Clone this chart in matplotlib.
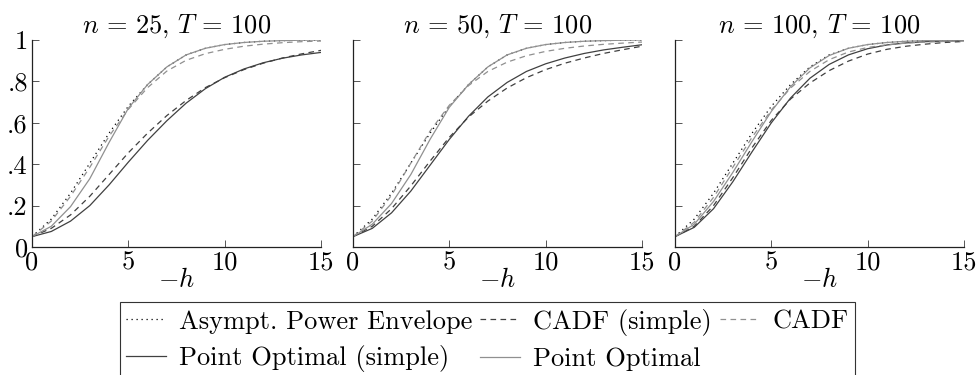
import matplotlib
matplotlib.use("Agg")
import matplotlib.pyplot as plt

plt.rcParams['font.family'] = 'cmr10'
plt.rcParams['mathtext.fontset'] = 'cm'
plt.rcParams['axes.unicode_minus'] = False

# grid of -h values
h = [0, 1, 2, 3, 4, 5, 6, 7, 8, 9, 10, 11, 12, 13, 14, 15]

# asymptotic power envelope (same in every panel)
envelope = [0.05, 0.135, 0.26, 0.405, 0.55, 0.68, 0.785, 0.87, 0.928, 0.96,
            0.978, 0.988, 0.994, 0.997, 0.999, 1.0]

# n = 25
cadf_s_25 = [0.05, 0.09, 0.155, 0.245, 0.35, 0.455, 0.55, 0.635, 0.708, 0.77,
             0.818, 0.857, 0.888, 0.913, 0.933, 0.95]
cadf_25 = [0.05, 0.125, 0.245, 0.385, 0.535, 0.665, 0.77, 0.85, 0.902, 0.934,
           0.955, 0.97, 0.98, 0.987, 0.992, 0.995]
po_s_25 = [0.05, 0.075, 0.125, 0.20, 0.30, 0.41, 0.515, 0.61, 0.695, 0.765,
           0.82, 0.86, 0.89, 0.912, 0.928, 0.94]
po_25 = [0.05, 0.10, 0.195, 0.33, 0.505, 0.67, 0.785, 0.87, 0.928, 0.96,
         0.978, 0.988, 0.994, 0.997, 0.999, 1.0]

# n = 50
cadf_s_50 = [0.05, 0.10, 0.185, 0.295, 0.415, 0.53, 0.628, 0.705, 0.768, 0.818,
             0.857, 0.888, 0.913, 0.935, 0.953, 0.97]
cadf_50 = [0.05, 0.125, 0.25, 0.405, 0.56, 0.685, 0.78, 0.848, 0.893, 0.924,
           0.945, 0.96, 0.971, 0.979, 0.985, 0.99]
po_s_50 = [0.05, 0.09, 0.165, 0.27, 0.395, 0.52, 0.632, 0.725, 0.795, 0.848,
           0.885, 0.913, 0.935, 0.952, 0.965, 0.977]
po_50 = [0.05, 0.11, 0.21, 0.35, 0.52, 0.675, 0.785, 0.87, 0.928, 0.96,
         0.978, 0.988, 0.994, 0.997, 0.999, 1.0]

# n = 100
cadf_s_100 = [0.05, 0.10, 0.20, 0.335, 0.48, 0.612, 0.715, 0.792, 0.852, 0.898,
              0.932, 0.955, 0.97, 0.98, 0.988, 0.993]
cadf_100 = [0.05, 0.12, 0.24, 0.385, 0.53, 0.662, 0.768, 0.848, 0.905, 0.942,
            0.964, 0.977, 0.985, 0.99, 0.993, 0.995]
po_s_100 = [0.05, 0.095, 0.185, 0.315, 0.46, 0.6, 0.72, 0.815, 0.882, 0.928,
            0.958, 0.976, 0.986, 0.992, 0.995, 0.997]
po_100 = [0.05, 0.11, 0.22, 0.36, 0.51, 0.655, 0.775, 0.865, 0.925, 0.96,
          0.978, 0.988, 0.994, 0.997, 0.999, 1.0]

titles = [r'$n\,=\,25$, $T\,=\,100$', r'$n\,=\,50$, $T\,=\,100$',
          r'$n\,=\,100$, $T\,=\,100$']
panels = [(cadf_s_25, cadf_25, po_s_25, po_25),
          (cadf_s_50, cadf_50, po_s_50, po_50),
          (cadf_s_100, cadf_100, po_s_100, po_100)]

xticks = [0, 5, 10, 15]
yticks = [0, 0.2, 0.4, 0.6, 0.8, 1.0]
ytick_labels = ['0', '.2', '.4', '.6', '.8', '1']

dark = '#404040'
light = '#909090'
lw = 0.9
fs = 19
dash = (0, (4.5, 3.5))

fig = plt.figure(figsize=(9.8, 3.75), dpi=100)
lefts = [32, 353, 675]
for i, left in enumerate(lefts):
    ax = fig.add_axes([left / 980, 1 - 247 / 375, 289 / 980, 207 / 375])
    cadf_s, cadf, po_s, po = panels[i]
    ax.plot(h, envelope, color='black', lw=lw, ls=(0, (1, 3)),
            label='Asympt. Power Envelope')
    ax.plot(h, po_s, color=dark, lw=lw, label='Point Optimal (simple)')
    ax.plot(h, cadf_s, color=dark, lw=lw, ls=dash, label='CADF (simple)')
    ax.plot(h, po, color=light, lw=lw, label='Point Optimal')
    ax.plot(h, cadf, color=light, lw=lw, ls=dash, label='CADF')

    ax.set_xlim(0, 15)
    ax.set_ylim(0, 1)
    ax.spines['top'].set_visible(False)
    ax.spines['right'].set_visible(False)
    for s in ['left', 'bottom']:
        ax.spines[s].set_linewidth(0.9)
        ax.spines[s].set_color('#222222')
    ax.set_xticks(xticks)
    ax.set_xticklabels([str(t) for t in xticks])
    ax.set_yticks(yticks)
    if i == 0:
        ax.set_yticklabels(ytick_labels)
    else:
        ax.set_yticklabels([])
    ax.tick_params(direction='in', length=5, width=0.7, color='#555555',
                   labelsize=fs, pad=3)
    ax.set_title(titles[i], fontsize=fs, pad=4)
    ax.set_xlabel(r'$-h$', fontsize=fs, labelpad=-5)
    if i == 0:
        handles, labels = ax.get_legend_handles_labels()

leg = fig.legend(handles, labels, loc='upper center', ncol=3,
                 bbox_to_anchor=(487.5 / 980, 1 - 302 / 375), fontsize=fs,
                 frameon=True, fancybox=False, edgecolor='#333333',
                 framealpha=1, handlelength=1.5, handletextpad=0.5,
                 columnspacing=0.3, borderpad=0.25, labelspacing=0.45,
                 borderaxespad=0)
leg.get_frame().set_linewidth(0.8)

fig.savefig('out.png', dpi=100)
